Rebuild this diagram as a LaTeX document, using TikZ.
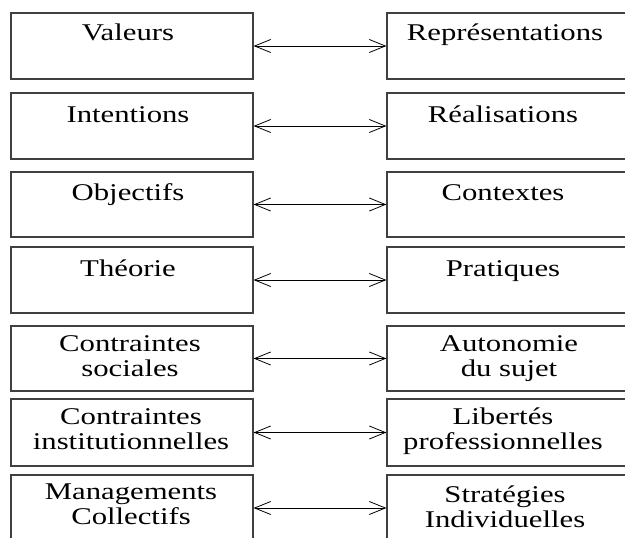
\documentclass[tikz,border=0pt]{standalone}
\usepackage{fontspec}
\setmainfont[FakeStretch=1.28]{Liberation Serif}
\usetikzlibrary{positioning,arrows.meta}

\begin{document}
\begin{tikzpicture}[
      x=1pt,
      y=-1pt,
      box/.style={
        rectangle,
        draw=black!75,
        line width=1.2pt,
        minimum width=242pt,
        minimum height=66pt,
        inner sep=0pt
      },
      rbox/.style={
        box,
        minimum width=250pt
      },
      word/.style={
        inner sep=0pt,
        align=center,
        font=\fontsize{24}{25}\selectfont
      },
      link/.style={
        <->,
        >={Straight Barb[length=16pt,width=13pt]},
        line width=0.8pt
      }
    ]
      \useasboundingbox (0,0) rectangle (625,538);

      % boxes on the left
      \node[box] (l1) at (132,46) {};
      \node[box] (l2) at (132,126) {};
      \node[box, minimum height=65pt] (l3) at (132,204.5) {};
      \node[box] (l4) at (132,280) {};
      \node[box, minimum height=65pt] (l5) at (132,358.5) {};
      \node[box, minimum height=67pt] (l6) at (132,432.5) {};
      \node[box] (l7) at (132,508) {};

      % boxes on the right
      \node[rbox] (r1) at (512,46) {};
      \node[rbox] (r2) at (512,126) {};
      \node[rbox, minimum height=65pt] (r3) at (512,204.5) {};
      \node[rbox] (r4) at (512,280) {};
      \node[rbox, minimum height=65pt] (r5) at (512,358.5) {};
      \node[rbox, minimum height=67pt] (r6) at (512,432.5) {};
      \node[rbox] (r7) at (512,508) {};

      % texts
      \node[word, anchor=base] (tl1) at (128,41) {Valeurs};
      \node[word, anchor=base] (tr1) at (505,40) {Représentations};
      \node[word, anchor=base] (tl2) at (128,122) {Intentions};
      \node[word, anchor=base] (tr2) at (503,122) {Réalisations};
      \node[word, anchor=base] (tl3) at (128,200) {Objectifs};
      \node[word, anchor=base] (tr3) at (503,200) {Contextes};
      \node[word, anchor=base] (tl4) at (128,276) {Théorie};
      \node[word, anchor=base] (tr4) at (503,276) {Pratiques};

      \node[word] (tl5) at (130,356.5) {Contraintes\\sociales};
      \node[word] (tr5) at (509,359) {Autonomie\\du sujet};
      \node[word] (tl6) at (131,429) {Contraintes\\institutionnelles};
      \node[word] (tr6) at (503,431.5) {Libertés\\professionnelles};
      \node[word] (tl7) at (131,504) {Managements\\Collectifs};
      \node[word] (tr7) at (505,506.5) {Stratégies\\Individuelles};

      \draw[link] (l1) -- (r1);
      \draw[link] (l2) -- (r2);
      \draw[link] (l3) -- (r3);
      \draw[link] (l4) -- (r4);
      \draw[link] (l5) -- (r5);
      \draw[link] (l6) -- (r6);
      \draw[link] (l7) -- (r7);
    \end{tikzpicture}
\end{document}
